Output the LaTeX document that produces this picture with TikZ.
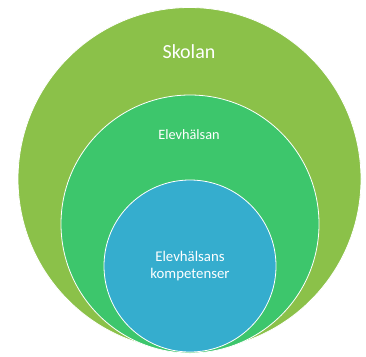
\documentclass[tikz,border=0pt]{standalone}
\usepackage{fontspec}
\setmainfont{Carlito}
\definecolor{outerc}{RGB}{139,193,73}
\definecolor{midc}{RGB}{61,198,108}
\definecolor{innerc}{RGB}{53,173,206}
\begin{document}
\begin{tikzpicture}[x=1pt,y=-1pt,
  ring/.style={circle,draw=white,line width=0.8pt,inner sep=0pt},
  lbl/.style={text=white,align=center,inner sep=0pt}]
\useasboundingbox (0,0) rectangle (366,356);
\node[ring,fill=outerc,minimum size=343pt] (outer) at (189.5,179) {};
\node[ring,fill=midc,minimum size=258pt] (mid) at (190,224) {};
\node[ring,fill=innerc,minimum size=172pt] (inner) at (190,266) {};
\node[lbl,font=\fontsize{20}{24}\selectfont] (t1) at (189,52) {Skolan};
\node[lbl,font=\fontsize{14.3}{17}\selectfont] (t2) at (189,135) {Elevhälsan};
\node[lbl,font=\fontsize{14.8}{17}\selectfont] (t3) at (190,266.5) {Elevhälsans\\kompetenser};
\end{tikzpicture}
\end{document}
